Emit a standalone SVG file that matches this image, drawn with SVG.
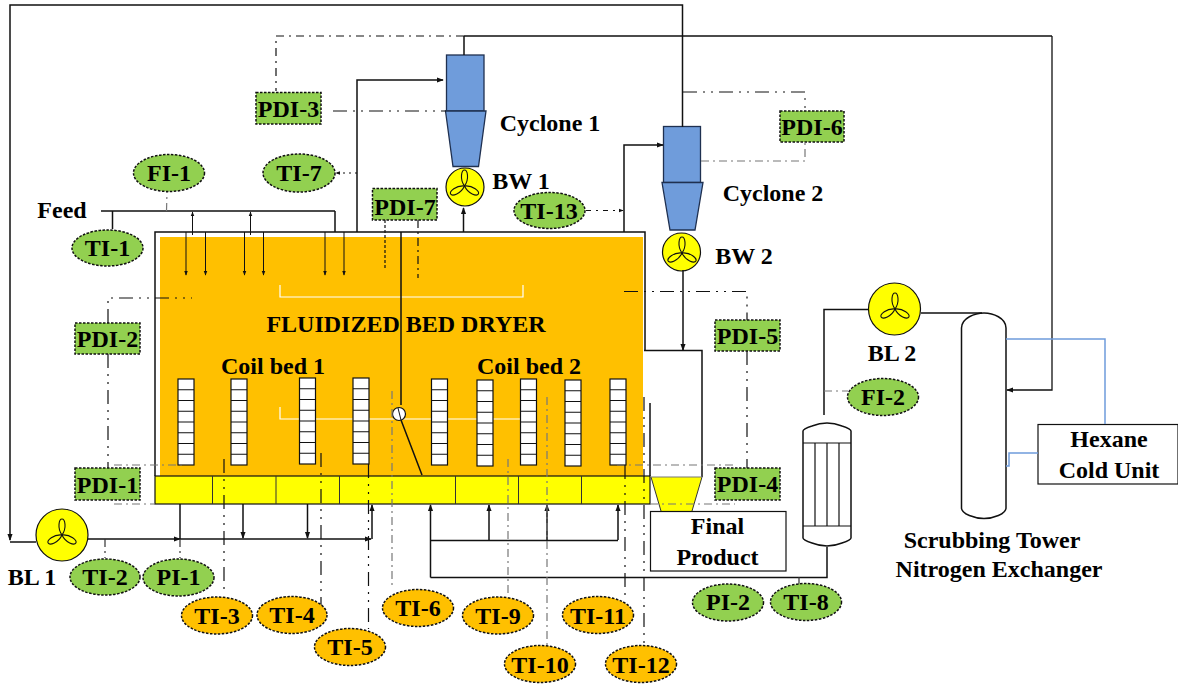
<svg xmlns="http://www.w3.org/2000/svg" width="1178" height="684" viewBox="0 0 1178 684">
<style>
text{font-family:"Liberation Serif","Times New Roman",serif;font-weight:bold;fill:#000;text-anchor:middle}
.t{font-size:24px}
.l{font-size:24px}
.p{fill:none;stroke:#111;stroke-width:1.5}
.a{fill:none;stroke:#111;stroke-width:1.5;marker-end:url(#ah)}
.s{fill:none;stroke:#111;stroke-width:1;marker-end:url(#as)}
.d{fill:none;stroke:#111;stroke-width:1.2;stroke-dasharray:14 6 2 6 2 6}
.dg{fill:none;stroke:#777;stroke-width:1.2;stroke-dasharray:8 4 2 4}
.w{fill:none;stroke:#fff;stroke-width:1.2}
.g{fill:#92d050;stroke:#111;stroke-width:1.5;stroke-dasharray:2.5 1.5}
.o{fill:#ffc000;stroke:#111;stroke-width:1.5;stroke-dasharray:2.5 1.5}
.y{fill:#ff0;stroke:#111;stroke-width:1.2}
.b{fill:#6f9cdb;stroke:#1f3050;stroke-width:1.3}
.c{fill:#fff;stroke:#111;stroke-width:1.2}
.bl{fill:none;stroke:#6f9cdb;stroke-width:1.5}
</style>
<defs>
<marker id="ah" viewBox="0 0 8 8" refX="7" refY="4" markerWidth="7" markerHeight="7" markerUnits="userSpaceOnUse" orient="auto"><path d="M0 1 L8 4 L0 7Z" fill="#111"/></marker>
<marker id="as" viewBox="0 0 8 8" refX="7" refY="4" markerWidth="5" markerHeight="5" markerUnits="userSpaceOnUse" orient="auto"><path d="M0 1 L8 4 L0 7Z" fill="#111"/></marker>
<g id="fan"><g fill="none" stroke="#111" stroke-width="1.1"><path id="pet" d="M0 0 C-5 -7 -3 -16 0 -16 C3 -16 5 -7 0 0Z"/><use href="#pet" transform="rotate(120)"/><use href="#pet" transform="rotate(240)"/></g></g>
<g id="coil"><rect class="c" x="0" y="0" width="16" height="86"/><path d="M0 10.75H16M0 21.5H16M0 32.25H16M0 43H16M0 53.75H16M0 64.5H16M0 75.25H16" stroke="#111" stroke-width="1.2" fill="none"/></g>
</defs>
<rect width="1178" height="684" fill="#fff"/>

<g id="dryer">
<rect x="160" y="237" width="483" height="239" fill="#ffc000"/>
<path class="p" d="M155 476V232H645V350"/>
<path class="w" d="M280 285V297H523V285"/>
<path class="w" d="M280 407V419H520"/>
<text class="l" x="406" y="332">FLUIDIZED BED DRYER</text>
<text class="l" x="273" y="374">Coil bed 1</text>
<text class="l" x="529" y="374">Coil bed 2</text>
<use href="#coil" x="178" y="379"/><use href="#coil" x="231" y="379"/><use href="#coil" x="299.500" y="378"/><use href="#coil" x="353" y="378"/>
<use href="#coil" x="431.500" y="379"/><use href="#coil" x="477" y="380"/><use href="#coil" x="520.500" y="379"/><use href="#coil" x="565" y="380"/><use href="#coil" x="610" y="379"/>
<path class="p" d="M401 232V405M401 476V504M401 420L422 475" stroke-width="1.2"/>
<circle cx="399" cy="414" r="6.500" class="c"/><path d="M398 408L401 420" stroke="#111"/>
</g>
<g id="distributor">
<rect class="y" x="155" y="476" width="495" height="28" stroke-width="1.5"/>
<path d="M212.500 476V504M276 476V504M339.500 476V504M455.500 476V504M518.500 476V504M581.500 476V504" stroke="#333" fill="none"/>
</g>
<g id="hopper">
<path class="p" d="M644 350.500H702V477M650 403V476"/>
<path d="M651 477H702L692 511H661Z" fill="#ff0"/><path d="M651 477L661 511M702 477L692 511" stroke="#333" fill="none"/>
<path d="M651 477H702" stroke="#777"/>
</g>
<g id="final-product"><rect class="c" x="650.500" y="511.500" width="135.500" height="59.500"/><text class="l" x="717.500" y="534">Final</text><text class="l" x="717.500" y="565">Product</text></g>
<g id="cyclone-1"><rect class="b" x="446.500" y="55" width="37.500" height="56"/><path class="b" d="M445.500 111H486L478.500 166.500H453Z"/><text class="l" x="550" y="131">Cyclone 1</text></g>
<g id="bw-1"><circle cx="465" cy="187" r="19" class="y"/><use href="#fan" x="464.500" y="186" transform="translate(0 0)"/><text class="l" x="521" y="189">BW 1</text></g>
<g id="cyclone-2"><rect class="b" x="663.500" y="126.500" width="37" height="56"/><path class="b" d="M662 182.500H703L695 230H670Z"/><text class="l" x="773" y="201">Cyclone 2</text></g>
<g id="bw-2"><circle cx="681.500" cy="252" r="19" class="y"/><use href="#fan" x="682" y="253"/><text class="l" x="744" y="264">BW 2</text></g>
<g id="bl-1"><circle cx="62" cy="535" r="26" class="y"/><use href="#fan" x="62" y="535"/><text class="l" x="32" y="585">BL 1</text></g>
<g id="bl-2"><circle cx="894.500" cy="309" r="26" class="y"/><use href="#fan" x="895" y="309"/><text class="l" x="892" y="361">BL 2</text></g>
<g id="nitrogen-exchanger">
<path class="p" stroke-width="1.2" d="M803 431Q803 429 812 426Q827 420 842 426Q851 429 851 431V538Q851 540 842 543Q827 549 812 543Q803 540 803 538Z"/>
<path d="M803 443H851M803 526H851M815 443V526M827 443V526M839 443V526" stroke="#111" stroke-width="1.2" fill="none"/>
<text class="l" x="999" y="577">Nitrogen Exchanger</text>
</g>
<g id="scrubbing-tower">
<path class="p" d="M961.500 328C961.500 318 975 313 984 313C993 313 1006 318 1006 328V508C1006 514 993 518.500 984 518.500C975 518.500 961.500 514 961.500 508Z"/>
<text class="l" x="992" y="548">Scrubbing Tower</text>
</g>
<g id="hexane-cold-unit"><rect class="c" x="1038" y="424.500" width="140" height="59.500"/><text class="l" x="1109" y="447">Hexane</text><text class="l" x="1109" y="478">Cold Unit</text></g>

<g id="connectors">
<path class="a" d="M682.500 127V5H10V540"/>
<path class="p" d="M10 542H36"/>
<path class="a" d="M1052 36V390H1007" style="stroke-width:1.3"/>
<path class="p" d="M464 36H1052M464 36V55"/>
<path class="a" d="M357 232V80H443"/>
<path class="a" d="M463.500 232V208"/>
<path class="a" d="M624 232V145H663"/>
<path class="a" d="M683 270V350"/>
<path class="p" stroke-width="1" d="M101 211H335M112.500 211V229M335 211V232"/>
<path class="s" d="M192.500 235V212"/><path class="s" d="M250.500 235V212"/>
<path class="s" d="M186 232V275"/><path class="s" d="M205.500 232V275"/><path class="s" d="M244.500 232V275"/><path class="s" d="M263.500 232V275"/><path class="s" d="M325 232V275"/><path class="s" d="M344 232V275"/>
<path class="a" d="M88 539H180"/><path class="a" d="M180 539H371"/>
<path class="p" d="M180 504V539"/>
<path class="a" d="M243 504V538"/><path class="a" d="M307.500 504V538"/><path class="a" d="M372 539V505"/>
<path class="a" d="M430.500 577.500V505"/>
<path class="p" d="M430.500 540.500H618"/>
<path class="a" d="M489 540V505"/><path class="a" d="M547 540V505"/><path class="a" d="M618 540V505"/>
<path class="p" d="M430.500 577.500H827V547"/>
<path class="p" d="M824 415V309.500H869M921 313H982"/>
<path class="bl" d="M1006 339H1105V424"/>
<path class="bl" d="M1038 523" />
<path class="bl" d="M1038 453H1009V466H1006"/>
<path class="d" stroke-dasharray="8 4 2 4" d="M464 36H276V91" style="stroke-dasharray:8 5 2 5"/>
<path class="d" d="M333 111H446"/>
<path class="d" style="marker-end:url(#as);stroke-dasharray:2 4" d="M357 173H336"/>
<path class="d" style="marker-end:url(#as);stroke-dasharray:5 5 2 5" d="M586 210.500H623"/>
<path class="dg" d="M166.500 211L167 192"/>
<path class="dg" style="stroke:#111;stroke-dasharray:3 2" d="M385 220V270"/>
<path class="d" d="M418 220V278" style="stroke-dasharray:8 4 2 4"/>
<path class="d" d="M108 323V298H192"/>
<path class="d" d="M108 354V468"/>
<path class="dg" d="M114 465H185M114 504H155"/>
<path class="d" d="M683 92H805V111" style="stroke-width:1"/>
<path class="dg" d="M701 161H805V142"/>
<path class="d" d="M624 291.500H747V320"/>
<path class="d" d="M747 351V468"/>
<path class="dg" d="M617 465H735M650 504H735"/>
<path class="dg" style="stroke:#333" d="M105 539V558"/>
<path class="dg" style="stroke:#333" d="M180 539V558"/>
<path class="d" d="M224 459V590"/>
<path class="d" d="M321 453V605"/>
<path class="d" d="M368.500 464V629"/>
<path class="dg" d="M392 391V588"/>
<path class="dg" d="M508 459V595"/>
<path class="dg" d="M547 397V646"/>
<path class="d" d="M625 465V597"/>
<path class="d" d="M644 397V645"/>
<path class="dg" style="stroke:#333" d="M799 577V585"/>
<path class="dg" d="M824 391H848"/>
</g>

<g id="PDI-1"><rect class="g" x="75" y="468" width="65" height="32"/><text class="t" x="107.500" y="493">PDI-1</text></g>
<g id="PDI-2"><rect class="g" x="75" y="323" width="65" height="31"/><text class="t" x="107.500" y="347">PDI-2</text></g>
<g id="PDI-3"><rect class="g" x="256" y="92.500" width="65" height="31.500"/><text class="t" x="288.500" y="117">PDI-3</text></g>
<g id="PDI-4"><rect class="g" x="715" y="468" width="65" height="32"/><text class="t" x="747.500" y="492">PDI-4</text></g>
<g id="PDI-5"><rect class="g" x="715" y="320" width="65" height="31"/><text class="t" x="747.500" y="344">PDI-5</text></g>
<g id="PDI-6"><rect class="g" x="780" y="111" width="64" height="31"/><text class="t" x="812" y="135">PDI-6</text></g>
<g id="PDI-7"><rect class="g" x="372.500" y="188.500" width="64.500" height="31.500"/><text class="t" x="405" y="215">PDI-7</text></g>
<g id="FI-1"><ellipse class="g" cx="169" cy="173" rx="35.500" ry="18.500"/><text class="t" x="169" y="181">FI-1</text></g>
<g id="FI-2"><ellipse class="g" cx="883" cy="397" rx="35.500" ry="18.500"/><text class="t" x="883" y="405">FI-2</text></g>
<g id="PI-1"><ellipse class="g" cx="178.500" cy="577.500" rx="35.500" ry="18.500"/><text class="t" x="178.500" y="585">PI-1</text></g>
<g id="PI-2"><ellipse class="g" cx="728" cy="602.500" rx="35.500" ry="18.500"/><text class="t" x="728" y="610">PI-2</text></g>
<g id="TI-1"><ellipse class="g" cx="107.500" cy="248" rx="35.500" ry="18"/><text class="t" x="107.500" y="256">TI-1</text></g>
<g id="TI-2"><ellipse class="g" cx="105" cy="577" rx="35" ry="18"/><text class="t" x="105" y="585">TI-2</text></g>
<g id="TI-7"><ellipse class="g" cx="299" cy="173" rx="36" ry="19"/><text class="t" x="299" y="181">TI-7</text></g>
<g id="TI-8"><ellipse class="g" cx="806" cy="602" rx="35.500" ry="18.500"/><text class="t" x="806" y="610">TI-8</text></g>
<g id="TI-13"><ellipse class="g" cx="549.500" cy="210.500" rx="35.500" ry="18"/><text class="t" x="549" y="219">TI-13</text></g>
<g id="TI-3"><ellipse class="o" cx="217" cy="615.500" rx="35.500" ry="18.500"/><text class="t" x="217" y="624">TI-3</text></g>
<g id="TI-4"><ellipse class="o" cx="292" cy="615" rx="35" ry="18.500"/><text class="t" x="292" y="623">TI-4</text></g>
<g id="TI-5"><ellipse class="o" cx="350" cy="647" rx="35.500" ry="18.500"/><text class="t" x="350" y="655">TI-5</text></g>
<g id="TI-6"><ellipse class="o" cx="418" cy="608" rx="35.500" ry="18.500"/><text class="t" x="418" y="616">TI-6</text></g>
<g id="TI-9"><ellipse class="o" cx="498" cy="615.500" rx="35.500" ry="18.500"/><text class="t" x="498" y="624">TI-9</text></g>
<g id="TI-10"><ellipse class="o" cx="540" cy="664" rx="35.500" ry="18.500"/><text class="t" x="540" y="673">TI-10</text></g>
<g id="TI-11"><ellipse class="o" cx="598" cy="615" rx="35.500" ry="18.500"/><text class="t" x="598" y="624">TI-11</text></g>
<g id="TI-12"><ellipse class="o" cx="641" cy="664" rx="35.500" ry="18.500"/><text class="t" x="641" y="673">TI-12</text></g>
<text class="l" x="62" y="218">Feed</text>
</svg>
